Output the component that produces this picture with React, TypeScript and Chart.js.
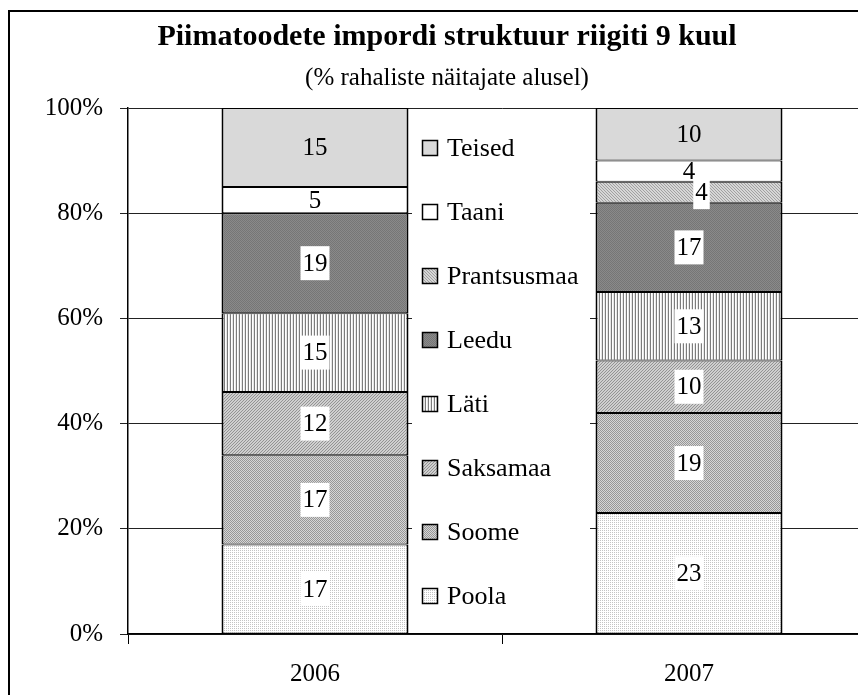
import React, { useEffect, useRef } from 'react';
import { Chart, registerables } from 'chart.js';

Chart.register(...registerables);

// ---- data ----
const years = ['2006', '2007'];
const seriesNames = ['Poola', 'Soome', 'Saksamaa', 'Läti', 'Leedu', 'Prantsusmaa', 'Taani', 'Teised'];
const poola = [17, 23];
const soome = [17, 19];
const saksamaa = [12, 10];
const lati = [15, 13];
const leedu = [19, 17];
const prantsusmaa = [0, 4];
const taani = [5, 4];
const teised = [15, 10];
const seriesValues = [poola, soome, saksamaa, lati, leedu, prantsusmaa, taani, teised];
const yTickValues = [0, 20, 40, 60, 80, 100];
const titleText = 'Piimatoodete impordi struktuur riigiti 9 kuul';
const subtitleText = '(% rahaliste näitajate alusel)';

// ---- styles ----
const labelBoxed = [true, true, true, true, true, true, false, false];
const FONT = "'Liberation Serif', 'Times New Roman', serif";

type PixFn = (x: number, y: number) => string;

function makePattern(ctx: CanvasRenderingContext2D, w: number, h: number, fn: PixFn): CanvasPattern | string {
  const c = document.createElement('canvas');
  c.width = w;
  c.height = h;
  const g = c.getContext('2d');
  if (!g) return '#ccc';
  for (let y = 0; y < h; y++) {
    for (let x = 0; x < w; x++) {
      g.fillStyle = fn(x, y);
      g.fillRect(x, y, 1, 1);
    }
  }
  return ctx.createPattern(c, 'repeat') || '#ccc';
}

function makeFills(ctx: CanvasRenderingContext2D) {
  return [
    // Poola: fine light dots
    makePattern(ctx, 2, 2, (x, y) => (x === 0 && y === 0 ? '#c4c4c4' : '#ffffff')),
    // Soome: checker
    makePattern(ctx, 2, 2, (x, y) => ((x + y) % 2 === 0 ? '#979797' : '#d6d6d6')),
    // Saksamaa: diagonal fine hatch
    makePattern(ctx, 3, 3, (x, y) => ((x + y) % 3 === 0 ? '#939393' : '#cfcfcf')),
    // Läti: vertical stripes
    makePattern(ctx, 3, 1, (x) => (x === 0 ? '#7c7c7c' : x === 1 ? '#ffffff' : '#e6e6e6')),
    // Leedu: dark grey dotted
    makePattern(ctx, 2, 2, (x, y) => ((x + y) % 2 === 0 ? '#767676' : '#8a8a8a')),
    // Prantsusmaa: light diagonal hatch (other direction)
    makePattern(ctx, 3, 3, (x, y) => ((x - y + 6) % 3 === 0 ? '#a0a0a0' : '#d6d6d6')),
    // Taani: white
    '#ffffff',
    // Teised: light grey
    '#d9d9d9',
  ];
}

export default function App() {
  const ref = useRef<HTMLCanvasElement | null>(null);

  useEffect(() => {
    const canvas = ref.current;
    if (!canvas) return;
    const ctx = canvas.getContext('2d');
    if (!ctx) return;
    const fills = makeFills(ctx);

    const legendBgPlugin = {
      id: 'legendBg',
      afterDatasetsDraw(chart: any) {
        const c = chart.ctx as CanvasRenderingContext2D;
        c.save();
        c.fillStyle = '#ffffff';
        c.fillRect(404, 107, 178, 516);
        c.restore();
      },
    };

    const framePlugin = {
      id: 'frame',
      afterDraw(chart: any) {
        const c = chart.ctx as CanvasRenderingContext2D;
        c.save();
        c.fillStyle = '#000';
        c.fillRect(0, 2, 2, chart.height);
        c.fillRect(0, 2, chart.width, 2);
        // titles
        c.textAlign = 'center';
        c.textBaseline = 'alphabetic';
        c.font = `bold 30px ${FONT}`;
        c.fillText(titleText, 439, 37);
        c.font = `25px ${FONT}`;
        c.fillText(subtitleText, 439, 77);
        // legend (top to bottom: reverse of series order)
        c.font = `26px ${FONT}`;
        c.textAlign = 'left';
        c.textBaseline = 'middle';
        const n = seriesNames.length;
        for (let k = 0; k < n; k++) {
          const i = n - 1 - k;
          const yc = 140 + k * 64;
          c.fillStyle = fills[i] as any;
          c.fillRect(414, yc - 8, 16, 16);
          c.strokeStyle = '#000';
          c.lineWidth = 1.5;
          c.strokeRect(414.5, yc - 7.5, 15, 15);
          c.fillStyle = '#000';
          c.fillText(seriesNames[i], 439, yc + 1);
        }
        c.restore();
      },
    };

    const labelPlugin = {
      id: 'segLabels',
      afterDatasetsDraw(chart: any) {
        const c = chart.ctx as CanvasRenderingContext2D;
        c.save();
        c.font = `25px ${FONT}`;
        c.textAlign = 'center';
        c.textBaseline = 'middle';
        const n = chart.data.datasets.length;
        for (let j = 0; j < years.length; j++) {
          const placed: { y: number }[] = [];
          const items: { x: number; y: number; w: number; t: string; boxed: boolean }[] = [];
          for (let i = n - 1; i >= 0; i--) {
            const v = seriesValues[i][j];
            if (!v) continue;
            const el = chart.getDatasetMeta(i).data[j];
            if (!el) continue;
            const t = String(v);
            const tw = c.measureText(t).width;
            let cx = el.x;
            const cy = (el.y + el.base) / 2;
            for (const p of placed) {
              if (Math.abs(p.y - cy) < 23) cx += tw;
            }
            placed.push({ y: cy });
            items.push({ x: cx, y: cy, w: tw, t, boxed: labelBoxed[i] });
          }
          for (let k = items.length - 1; k >= 0; k--) {
            const it = items[k];
            if (it.boxed) {
              c.fillStyle = '#ffffff';
              c.fillRect(it.x - it.w / 2 - 2, it.y - 17, it.w + 4, 34);
            }
            c.fillStyle = '#000';
            c.fillText(it.t, it.x, it.y + 1);
          }
        }
        c.restore();
      },
    };

    const chart = new Chart(ctx, {
      type: 'bar',
      data: {
        labels: years,
        datasets: seriesNames.map((name, i) => ({
          label: name,
          data: seriesValues[i],
          backgroundColor: fills[i] as any,
          borderColor: '#000',
          borderWidth: { top: 1, bottom: 1, left: 2, right: 2 },
          borderSkipped: false,
          categoryPercentage: 1,
          barPercentage: 0.5,
        })),
      },
      options: {
        responsive: false,
        animation: false,
        devicePixelRatio: 1,
        layout: { padding: { top: 100, right: 32, left: 0, bottom: 0 } },
        font: { family: FONT },
        plugins: {
          legend: { display: false },
          tooltip: { enabled: false },
          title: { display: false },
        },
        scales: {
          x: {
            stacked: true,
            offset: true,
            grid: {
              offset: true,
              drawOnChartArea: false,
              drawTicks: true,
              tickLength: 10,
              color: '#000',
              lineWidth: 1,
            },
            border: { display: true, color: '#000', width: 1.5 },
            ticks: { font: { size: 25, family: FONT }, color: '#000', padding: 15 },
            afterFit: (s: any) => {
              s.height = 61;
            },
          },
          y: {
            stacked: true,
            min: 0,
            max: 100,
            afterBuildTicks: (s: any) => {
              s.ticks = yTickValues.map((v) => ({ value: v }));
            },
            ticks: {
              callback: (v: any) => `${v}%`,
              font: { size: 25, family: FONT },
              color: '#000',
              padding: 17,
            },
            grid: { color: '#222', lineWidth: 1, tickLength: 8, drawTicks: true },
            border: { display: true, color: '#000', width: 1.5 },
            afterFit: (s: any) => {
              s.width = 120;
            },
          },
        },
      } as any,
      plugins: [legendBgPlugin, labelPlugin, framePlugin],
    });

    return () => chart.destroy();
  }, []);

  return (
    <div style={{ width: 858, height: 687, overflow: 'hidden', position: 'relative' }}>
      <canvas ref={ref} width={900} height={687} style={{ display: 'block', width: 900, height: 687 }} />
    </div>
  );
}
